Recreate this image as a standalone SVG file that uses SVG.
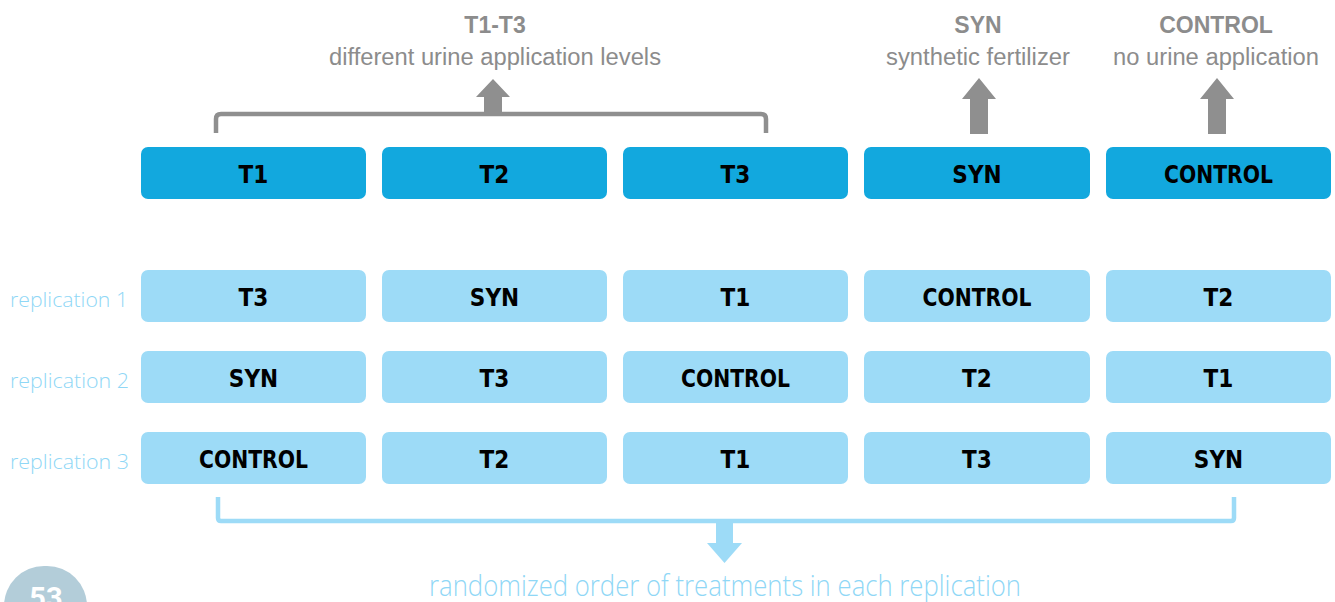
<svg xmlns="http://www.w3.org/2000/svg" width="1335" height="602" viewBox="0 0 1335 602">
<style>
.top{fill:#12a8de}
.rep{fill:#9ddbf7}
.bt{font-family:"DejaVu Sans Condensed","DejaVu Sans",sans-serif;font-weight:bold;font-size:24px;fill:#000;text-anchor:middle}
.gh{font-family:"Liberation Sans",Arial,sans-serif;font-weight:bold;font-size:23px;fill:#8c8c8c;text-anchor:middle}
.gs{font-family:"Liberation Sans",Arial,sans-serif;font-size:23px;fill:#8c8c8c;text-anchor:middle}
.lb{font-family:"Open Sans","DejaVu Sans",sans-serif;font-weight:300;font-size:21px;fill:#8fd7f6}
.cap{font-family:"Open Sans","DejaVu Sans",sans-serif;font-weight:300;font-size:29px;fill:#8fd7f6;text-anchor:middle}
.garrow{fill:#8f8f8f}
.barrow{fill:#9ddbf7}
</style>
<rect width="1335" height="602" fill="#fff"/>
<g id="labels-top">
<text class="gh" x="495" y="33">T1-T3</text>
<text class="gs" x="495" y="65" textLength="332" lengthAdjust="spacingAndGlyphs">different urine application levels</text>
<text class="gh" x="978" y="33">SYN</text>
<text class="gs" x="978" y="65" textLength="184" lengthAdjust="spacingAndGlyphs">synthetic fertilizer</text>
<text class="gh" x="1216" y="33">CONTROL</text>
<text class="gs" x="1216" y="65" textLength="206" lengthAdjust="spacingAndGlyphs">no urine application</text>
</g>
<g id="connectors">
<path d="M216 133 V119 Q216 114 221 114 H761 Q766 114 766 119 V133" fill="none" stroke="#8f8f8f" stroke-width="4.5"/>
<polygon class="garrow" points="484,114 484,97 476,97 493,79 510,97 502,97 502,114"/>
<polygon class="garrow" points="970,134 970,99 962,99 979,78 996,99 988,99 988,134"/>
<polygon class="garrow" points="1208,134 1208,99 1200,99 1217,78 1234,99 1226,99 1226,134"/>
<path d="M218 497 V518 Q218 521 221 521 H1231 Q1234 521 1234 518 V497" fill="none" stroke="#9ddbf7" stroke-width="4.5"/>
<polygon class="barrow" points="716,519 733,519 733,543 742,543 724.5,563 707,543 716,543"/>
</g>
<g id="row-top">
<g id="top-T1"><rect class="top" x="141" y="147" width="225" height="52" rx="7"/><text class="bt" x="253.5" y="183">T1</text></g>
<g id="top-T2"><rect class="top" x="382" y="147" width="225" height="52" rx="7"/><text class="bt" x="494.5" y="183">T2</text></g>
<g id="top-T3"><rect class="top" x="623" y="147" width="225" height="52" rx="7"/><text class="bt" x="735.5" y="183">T3</text></g>
<g id="top-SYN"><rect class="top" x="864" y="147" width="226" height="52" rx="7"/><text class="bt" x="977" y="183">SYN</text></g>
<g id="top-CONTROL"><rect class="top" x="1106" y="147" width="225" height="52" rx="7"/><text class="bt" x="1218.5" y="183" textLength="109" lengthAdjust="spacingAndGlyphs">CONTROL</text></g>
</g>
<g id="rep1">
<text class="lb" x="10" y="307" textLength="118" lengthAdjust="spacingAndGlyphs">replication 1</text>
<g id="r1c1"><rect class="rep" x="141" y="270" width="225" height="52" rx="7"/><text class="bt" x="253.5" y="306">T3</text></g>
<g id="r1c2"><rect class="rep" x="382" y="270" width="225" height="52" rx="7"/><text class="bt" x="494.5" y="306">SYN</text></g>
<g id="r1c3"><rect class="rep" x="623" y="270" width="225" height="52" rx="7"/><text class="bt" x="735.5" y="306">T1</text></g>
<g id="r1c4"><rect class="rep" x="864" y="270" width="226" height="52" rx="7"/><text class="bt" x="977" y="306" textLength="109" lengthAdjust="spacingAndGlyphs">CONTROL</text></g>
<g id="r1c5"><rect class="rep" x="1106" y="270" width="225" height="52" rx="7"/><text class="bt" x="1218.5" y="306">T2</text></g>
</g>
<g id="rep2">
<text class="lb" x="10" y="388" textLength="119" lengthAdjust="spacingAndGlyphs">replication 2</text>
<g id="r2c1"><rect class="rep" x="141" y="351" width="225" height="52" rx="7"/><text class="bt" x="253.5" y="387">SYN</text></g>
<g id="r2c2"><rect class="rep" x="382" y="351" width="225" height="52" rx="7"/><text class="bt" x="494.5" y="387">T3</text></g>
<g id="r2c3"><rect class="rep" x="623" y="351" width="225" height="52" rx="7"/><text class="bt" x="735.5" y="387" textLength="109" lengthAdjust="spacingAndGlyphs">CONTROL</text></g>
<g id="r2c4"><rect class="rep" x="864" y="351" width="226" height="52" rx="7"/><text class="bt" x="977" y="387">T2</text></g>
<g id="r2c5"><rect class="rep" x="1106" y="351" width="225" height="52" rx="7"/><text class="bt" x="1218.5" y="387">T1</text></g>
</g>
<g id="rep3">
<text class="lb" x="10" y="469" textLength="119" lengthAdjust="spacingAndGlyphs">replication 3</text>
<g id="r3c1"><rect class="rep" x="141" y="432" width="225" height="52" rx="7"/><text class="bt" x="253.5" y="468" textLength="109" lengthAdjust="spacingAndGlyphs">CONTROL</text></g>
<g id="r3c2"><rect class="rep" x="382" y="432" width="225" height="52" rx="7"/><text class="bt" x="494.5" y="468">T2</text></g>
<g id="r3c3"><rect class="rep" x="623" y="432" width="225" height="52" rx="7"/><text class="bt" x="735.5" y="468">T1</text></g>
<g id="r3c4"><rect class="rep" x="864" y="432" width="226" height="52" rx="7"/><text class="bt" x="977" y="468">T3</text></g>
<g id="r3c5"><rect class="rep" x="1106" y="432" width="225" height="52" rx="7"/><text class="bt" x="1218.5" y="468">SYN</text></g>
</g>
<g id="caption">
<text class="cap" x="725" y="596" textLength="592" lengthAdjust="spacingAndGlyphs">randomized order of treatments in each replication</text>
</g>
<g id="page-number">
<rect x="4" y="566" width="83" height="80" rx="40" fill="#b3cdd9"/>
<text x="46" y="608" font-family="Roboto,'Liberation Sans',sans-serif" font-weight="bold" font-size="29" fill="#fff" text-anchor="middle">53</text>
</g>
</svg>
